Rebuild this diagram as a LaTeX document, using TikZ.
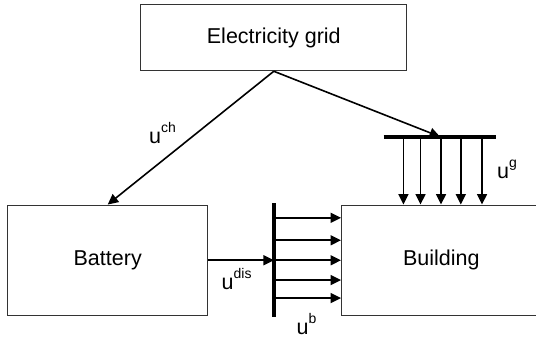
\documentclass[tikz,border=0pt]{standalone}
\usepackage{fontspec}
\setmainfont{Liberation Sans}
\usetikzlibrary{arrows.meta, positioning}
\newcommand{\supl}[1]{\raisebox{11pt}{\fontsize{14}{14}\selectfont #1}}

\begin{document}
\begin{tikzpicture}[x=1pt, y=1pt,
        box/.style={draw=black!80, line width=1.1pt, inner sep=0pt, font=\fontsize{21.5}{26}\selectfont},
        flow/.style={line width=1.6pt, -{Triangle[length=10.5pt, width=10pt]}},
        bar/.style={line width=3.6pt},
        lbl/.style={anchor=base west, inner sep=0pt, font=\fontsize{21.5}{26}\selectfont}]
        \useasboundingbox (0,0) rectangle (536,-341);
        \node[box, minimum width=266pt, minimum height=66.4pt] (grid) at (273.8,-37.5) {Electricity grid};
        \node[box, minimum width=199.6pt, minimum height=110.3pt, below=133.3pt of grid, xshift=-166.1pt] (battery) {Battery};
        \node[box, minimum width=199.5pt, minimum height=110.3pt, right=133pt of battery] (building) {Building};

        \coordinate (gbar) at (440,-136.7);
        \coordinate[right=65.9pt of battery.east] (bbar);
        \draw[bar] ([xshift=-56.4pt]gbar) -- ([xshift=56.4pt]gbar);
        \draw[bar] ([yshift=56.9pt]bbar) -- ([yshift=-56.3pt]bbar);

        \draw[flow] (grid.south) -- (battery.north);
        \draw[flow] (grid.south) -- (gbar);
        \draw[flow] (battery.east) -- (bbar);
        \foreach \dx in {-36.6,-19.5,1,20.8,42}
            \draw[flow] ([xshift=\dx pt]gbar) -- ([xshift=\dx pt]gbar |- building.north);
        \foreach \dy in {42.4,20,0,-19.8,-37.8}
            \draw[flow] ([yshift=\dy pt]bbar) -- ([yshift=\dy pt]bbar -| building.west);

        \node[lbl] (uch) at (149,-143.3) {u\supl{ch}};
        \node[lbl] (ug) at (497,-178.3) {u\supl{g}};
        \node[lbl] (udis) at (221.5,-289.3) {u\supl{dis}};
        \node[lbl] (ub) at (296.5,-334) {u\supl{b}};
\end{tikzpicture}
\end{document}
